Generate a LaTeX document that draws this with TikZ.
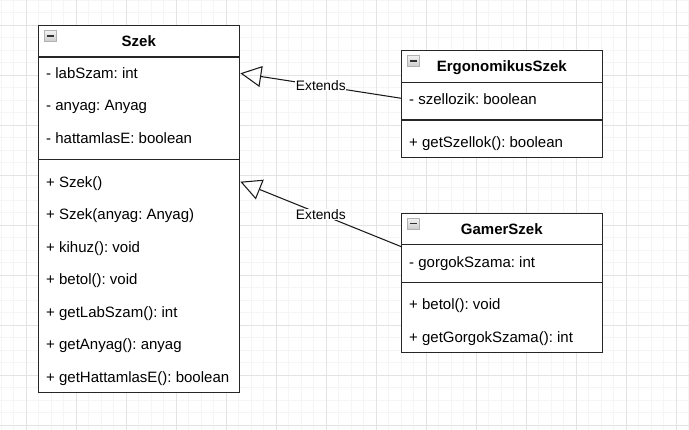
\documentclass[tikz,border=0pt]{standalone}
\usepackage{fontspec}
\setmainfont{Liberation Sans}
\usetikzlibrary{arrows.meta,calc}
\frenchspacing
\begin{document}
\begin{tikzpicture}[x=1pt,y=-1pt,
  umlbox/.style={draw=black!85,line width=1.05pt,rectangle,inner sep=0pt,anchor=north west},
  sepline/.style={draw=black!85,line width=1.05pt},
  rowtext/.style={anchor=base west,inner sep=0pt,font=\fontsize{15}{18}\selectfont},
  headtext/.style={anchor=base,inner sep=0pt,font=\fontsize{15}{18}\selectfont\bfseries},
  icon/.style={draw=gray!60,line width=0.6pt,top color=gray!10,bottom color=gray!40},
  icondash/.style={draw=black!80,line width=1.5pt},
  minorgrid/.style={draw=black!4,line width=0.9pt},
  majorgrid/.style={draw=black!11,line width=0.9pt},
  extends/.style={draw=black!90,line width=1.05pt,-{Triangle[open,length=21pt,width=21pt]}},
  elabel/.style={fill=white,inner sep=0.5pt,font=\fontsize{13.75}{16}\selectfont}
]
\useasboundingbox (0,0) rectangle (689,430);
% background grid
\foreach \k in {0,...,55} {\draw[minorgrid] ({1.2+12.5*\k},0) -- ({1.2+12.5*\k},430);}
\foreach \k in {0,...,34} {\draw[minorgrid] (0,{12.5*\k}) -- (689,{12.5*\k});}
\foreach \k in {0,...,13} {\draw[majorgrid] ({26.2+50*\k},0) -- ({26.2+50*\k},430);}
\foreach \k in {0,...,8} {\draw[majorgrid] (0,{25+50*\k}) -- (689,{25+50*\k});}

% ---------- Szek ----------
\node[umlbox,fill=white,minimum width=201pt,minimum height=367pt] (szek) at (38.3,25) {};
\draw[sepline] (38.3,57) -- (239.3,57);
\draw[sepline] (38.3,159.5) -- (239.3,159.5);
\draw[icon] (44,30.5) rectangle (56,41.5);
\draw[icondash] (46.5,36) -- (53.5,36);
\node[headtext] (szekh) at (138.8,47) {Szek};
\node[rowtext] (labSzam) at (46,78.5) {- labSzam: int};
\node[rowtext] (anyag) at (46,111) {- anyag: Anyag};
\node[rowtext] (hattamlasE) at (46,143.5) {- hattamlasE: boolean};
\node[rowtext] (szekctor) at (46,187.5) {+ Szek()};
\node[rowtext] (szekctor2) at (46,220) {+ Szek(anyag: Anyag)};
\node[rowtext] (kihuz) at (46,252.5) {+ kihuz(): void};
\node[rowtext] (betol) at (46,285) {+ betol(): void};
\node[rowtext] (getLabSzam) at (46,317.5) {+ getLabSzam(): int};
\node[rowtext] (getAnyag) at (46,350) {+ getAnyag(): anyag};
\node[rowtext] (getHattamlasE) at (46,382.5) {+ getHattamlasE(): boolean};

% ---------- ErgonomikusSzek ----------
\node[umlbox,fill=white,minimum width=201pt,minimum height=107pt] (ergo) at (401.3,50) {};
\draw[sepline] (401.3,82.7) -- (602.3,82.7);
\draw[sepline] (401.3,120) -- (602.3,120);
\draw[icon] (407,55.5) rectangle (419,66.5);
\draw[icondash] (409.5,61) -- (416.5,61);
\node[headtext] (ergoh) at (501.8,72) {ErgonomikusSzek};
\node[rowtext] (szellozik) at (409,104.5) {- szellozik: boolean};
\node[rowtext] (getSzellok) at (409,147.5) {+ getSzellok(): boolean};

% ---------- GamerSzek ----------
\node[umlbox,fill=white,minimum width=201pt,minimum height=139.3pt] (gamer) at (401.3,212.7) {};
\draw[sepline] (401.3,244.7) -- (602.3,244.7);
\draw[sepline] (401.3,282.7) -- (602.3,282.7);
\draw[icon] (407,218.2) rectangle (419,229.2);
\draw[icondash] (409.5,223.7) -- (416.5,223.7);
\node[headtext] (gamerh) at (501.8,234.8) {GamerSzek};
\node[rowtext] (gorgokSzama) at (409,267.2) {- gorgokSzama: int};
\node[rowtext] (gbetol) at (409,309.5) {+ betol(): void};
\node[rowtext] (getGorgokSzama) at (409,342.2) {+ getGorgokSzama(): int};

% ---------- connectors ----------
\coordinate (ergoin) at ($(ergo.north west)+(0,48.3)$);
\coordinate (szekin1) at ($(szek.north east)+(0,48.3)$);
\coordinate (gamerin) at ($(gamer.north west)+(0,34)$);
\coordinate (szekin2) at ($(szek.north east)+(0,156.7)$);
\draw[extends] (ergoin) -- node[elabel,pos=0.5] {Extends} (szekin1);
\draw[extends] (gamerin) -- node[elabel,pos=0.5] {Extends} (szekin2);
\end{tikzpicture}
\end{document}
